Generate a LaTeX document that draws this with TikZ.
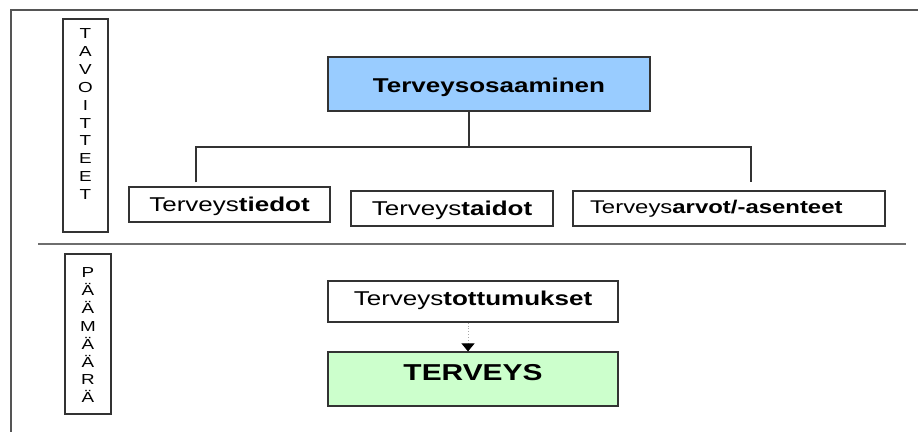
\documentclass[tikz,border=0pt]{standalone}
\usepackage{fontspec}
\setmainfont{Liberation Sans}
\newfontfamily\wfont[FakeStretch=1.3]{Liberation Sans}
\usetikzlibrary{arrows.meta,positioning}
\definecolor{boxline}{HTML}{333333}
\definecolor{frameline}{HTML}{555555}
\definecolor{skyfill}{HTML}{99CCFF}
\definecolor{mintfill}{HTML}{CCFFCC}

\begin{document}
\begin{tikzpicture}[x=1pt,y=-1pt,
  frame/.style={draw=frameline, line width=1.5pt},
  divider/.style={draw=frameline!85, line width=2pt},
  box/.style={draw=boxline, line width=1.2pt, inner sep=0pt, align=center},
  link/.style={draw=boxline, line width=1.2pt},
  flow/.style={draw=gray!70, line width=0.9pt, dotted,
    -{Triangle[width=13pt,length=8pt,black]}},
  txt/.style={font={\wfont\fontsize{20}{24}\selectfont}},
  stack/.style={inner sep=0pt, align=center,
    font={\wfont\fontsize{14.5}{17.9}\selectfont}}
]
\useasboundingbox (0,0) rectangle (918,432);
\fill[white] (0,0) rectangle (918,432);

% outer frame and section divider
\draw[frame] (918,10) -- (11,10) -- (11,432);
\draw[divider] (38,244) -- (906,244);

% side labels
\node[box, minimum width=45pt, minimum height=213pt] (goals) at (85.5,125.5) {};
\node[stack, below=10pt of goals.north] (goalstxt) {T\\A\\V\\O\\I\\T\\T\\E\\E\\T};
\node[box, minimum width=46pt, minimum height=160pt] (aim) at (88,334) {};
\node[stack, below=14pt of aim.north] (aimtxt) {P\\Ä\\Ä\\M\\Ä\\Ä\\R\\Ä};

% upper section
\node[box, txt, fill=skyfill, minimum width=322pt, text height=35pt, text depth=19pt]
  (core) at (489,84) {\bfseries Terveysosaaminen};
\node[box, txt, minimum width=201pt, text height=24.7pt, text depth=10.3pt]
  (know) at (229.5,204.5) {Terveys\textbf{tiedot}};
\node[box, txt, minimum width=202pt, text height=24.7pt, text depth=10.3pt]
  (skill) at (452,208.5) {Terveys\textbf{taidot}};
\node[box, font={\wfont\fontsize{18.4}{22}\selectfont}, align=left,
  text width=278pt, inner xsep=17pt, text height=22pt, text depth=13pt]
  (value) at (729,208.5) {Terveys\textbf{arvot/-asenteet}};

\coordinate (hub) at (469,147);
\coordinate (dropL) at (196,147);
\coordinate (dropR) at (751,147);
\draw[link] (core.south -| hub) -- (hub);
\draw[link] ([yshift=4pt]know.north -| dropL) -- (dropL) -- (dropR)
  -- ([yshift=8pt]value.north -| dropR);

% lower section
\node[box, txt, minimum width=290pt, text height=24pt, text depth=17pt]
  (habits) at (473,301.5) {Terveys\textbf{tottumukset}};
\node[box, font={\wfont\bfseries\fontsize{23}{28}\selectfont}, fill=mintfill,
  minimum width=290pt, text height=28pt, text depth=26pt]
  (health) at (473,379) {TERVEYS};

\coordinate (ax) at (468,0);
\draw[flow] (habits.south -| ax) -- (health.north -| ax);
\end{tikzpicture}
\end{document}
